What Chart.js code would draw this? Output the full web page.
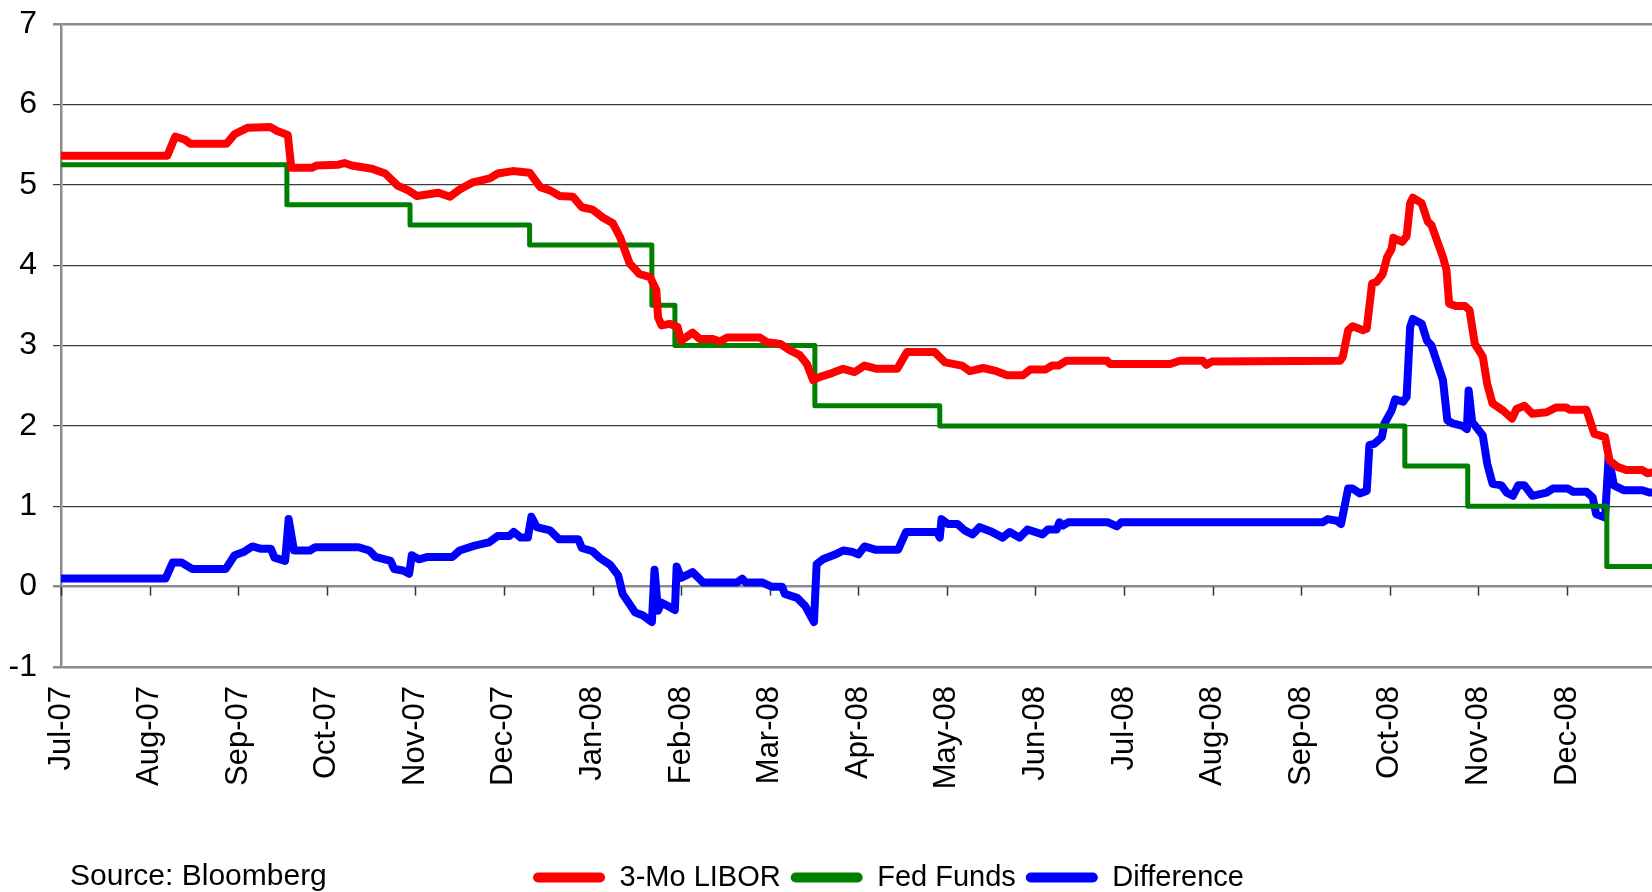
<!DOCTYPE html>
<html lang="en">
<head>
    <meta charset="UTF-8">
    <title>3-Mo LIBOR vs Fed Funds</title>
    <script src="https://cdn.jsdelivr.net/npm/chart.js"></script>
    <style>
        * { margin: 0; padding: 0; box-sizing: border-box; }
        body { background: #fff; overflow: hidden; font-family: 'Liberation Sans', Arial, sans-serif; }
        .wrap { position: relative; width: 1652px; height: 892px; }
        .source { position: absolute; left: 70px; top: 859px; font-size: 30px; line-height: 32px; color: #000; }
    </style>
</head>
<body>
    <div class="wrap">
        <canvas id="spreadChart"></canvas>
        <div class="source">Source: Bloomberg</div>
    </div>

    <script>
        // x positions are in months counted from 1 Jul 2007
        const monthLabels = ['Jul-07', 'Aug-07', 'Sep-07', 'Oct-07', 'Nov-07', 'Dec-07', 'Jan-08', 'Feb-08', 'Mar-08',
            'Apr-08', 'May-08', 'Jun-08', 'Jul-08', 'Aug-08', 'Sep-08', 'Oct-08', 'Nov-08', 'Dec-08'];
        const yTicks = [-1, 0, 1, 2, 3, 4, 5, 6, 7];

        const liborT = [0.00, 1.20, 1.29, 1.40, 1.46, 1.87, 1.96, 2.11, 2.36, 2.44, 2.56, 2.60, 2.83, 2.89, 3.13, 3.20, 3.28,
            3.51, 3.66, 3.80, 3.92, 4.02, 4.26, 4.39, 4.50, 4.65, 4.84, 4.93, 5.10, 5.29, 5.41, 5.52, 5.63, 5.78, 5.88, 6.00,
            6.12, 6.23, 6.31, 6.42, 6.53, 6.65, 6.72, 6.74, 6.78, 6.87, 6.96, 7.00, 7.13, 7.21, 7.36, 7.44, 7.52, 7.89, 7.97,
            8.12, 8.23, 8.34, 8.42, 8.49, 8.57, 8.71, 8.83, 8.96, 9.07, 9.21, 9.44, 9.55, 9.86, 9.98, 10.17, 10.26, 10.41,
            10.56, 10.68, 10.86, 10.94, 11.11, 11.19, 11.26, 11.35, 11.81, 11.84, 12.52, 12.63, 12.89, 12.93, 12.99, 14.44,
            14.47, 14.53, 14.58, 14.70, 14.74, 14.80, 14.85, 14.92, 14.97, 15.02, 15.04, 15.14, 15.19, 15.23, 15.26, 15.36,
            15.43, 15.47, 15.60, 15.64, 15.67, 15.75, 15.85, 15.90, 15.96, 16.05, 16.10, 16.16, 16.28, 16.38, 16.43, 16.52,
            16.61, 16.77, 16.88, 16.99, 17.03, 17.22, 17.31, 17.43, 17.48, 17.57, 17.67, 17.85, 17.91, 17.96];
        const liborV = [5.36, 5.36, 5.60, 5.56, 5.51, 5.51, 5.63, 5.71, 5.72, 5.67, 5.62, 5.21, 5.21, 5.24, 5.25, 5.27, 5.24,
            5.20, 5.14, 4.99, 4.93, 4.86, 4.90, 4.85, 4.94, 5.03, 5.08, 5.14, 5.17, 5.15, 4.97, 4.93, 4.86, 4.85, 4.72, 4.69,
            4.59, 4.52, 4.35, 4.02, 3.89, 3.85, 3.69, 3.35, 3.25, 3.27, 3.23, 3.06, 3.16, 3.08, 3.08, 3.05, 3.10, 3.10, 3.04,
            3.02, 2.94, 2.88, 2.77, 2.57, 2.61, 2.66, 2.71, 2.67, 2.75, 2.71, 2.71, 2.92, 2.92, 2.79, 2.75, 2.68, 2.72,
            2.68, 2.63, 2.63, 2.70, 2.70, 2.75, 2.75, 2.81, 2.81, 2.77, 2.77, 2.81, 2.81, 2.76, 2.80, 2.81,
            2.86, 3.19, 3.24, 3.19, 3.21, 3.77, 3.79, 3.89, 4.10, 4.20, 4.34, 4.29, 4.36, 4.77, 4.84, 4.77,
            4.54, 4.50, 4.10, 3.94, 3.52, 3.49, 3.49, 3.44, 3.02, 2.86, 2.52, 2.28, 2.19, 2.09, 2.21, 2.25,
            2.15, 2.17, 2.23, 2.23, 2.20, 2.20, 1.90, 1.86, 1.57, 1.49, 1.45, 1.45, 1.41, 1.42];

        const fedT = [0, 2.55, 3.94, 5.29, 6.67, 6.93, 8.51, 9.92, 15.17, 15.88, 17.45, 17.96];
        const fedV = [5.25, 4.75, 4.50, 4.25, 3.50, 3.00, 2.25, 2.00, 1.50, 1.00, 0.25, 0.25];

        const diffT = [0.01, 1.18, 1.26, 1.36, 1.48, 1.86, 1.96, 2.06, 2.16, 2.26, 2.37, 2.41, 2.53, 2.57, 2.63, 2.81, 2.87,
            3.36, 3.48, 3.55, 3.72, 3.76, 3.86, 3.93, 3.96, 4.04, 4.14, 4.42, 4.50, 4.67, 4.83, 4.93, 5.06, 5.11, 5.19, 5.27,
            5.31, 5.37, 5.52, 5.62, 5.84, 5.88, 6.00, 6.08, 6.20, 6.29, 6.34, 6.48, 6.57, 6.67, 6.70, 6.74, 6.78, 6.85, 6.93,
            6.95, 7.00, 7.13, 7.25, 7.63, 7.69, 7.73, 7.92, 8.02, 8.14, 8.17, 8.31, 8.40, 8.50, 8.53, 8.60, 8.76, 8.83, 8.94,
            9.00, 9.07, 9.19, 9.45, 9.54, 9.89, 9.92, 9.94, 10.01, 10.12, 10.20, 10.29, 10.37, 10.49, 10.63, 10.71, 10.82,
            10.91, 11.08, 11.14, 11.24, 11.27, 11.31, 11.37, 11.82, 11.92, 11.97, 14.24, 14.30, 14.40, 14.45, 14.53, 14.58,
            14.66, 14.74, 14.77, 14.83, 14.91, 14.94, 15.02, 15.06, 15.15, 15.19, 15.23, 15.26, 15.36, 15.42, 15.47, 15.60,
            15.65, 15.71, 15.82, 15.87, 15.89, 15.93, 16.05, 16.10, 16.16, 16.26, 16.32, 16.39, 16.45, 16.52, 16.61, 16.77,
            16.84, 17.01, 17.07, 17.22, 17.29, 17.33, 17.43, 17.47, 17.53, 17.64, 17.85, 17.93, 17.96];
        const diffV = [0.10, 0.10, 0.30, 0.30, 0.22, 0.22, 0.39, 0.43, 0.50, 0.47, 0.47, 0.36, 0.32, 0.84, 0.45, 0.45, 0.49,
            0.49, 0.45, 0.37, 0.32, 0.22, 0.20, 0.16, 0.39, 0.34, 0.37, 0.37, 0.45, 0.51, 0.55, 0.63, 0.63, 0.68, 0.61, 0.61,
            0.87, 0.74, 0.70, 0.59, 0.59, 0.48, 0.44, 0.36, 0.27, 0.14, -0.09, -0.32, -0.36, -0.44, 0.21, -0.30, -0.20, -0.24, -0.29,
            0.25, 0.11, 0.18, 0.05, 0.05, 0.10, 0.05, 0.05, 0.00, 0.00, -0.09, -0.14, -0.24, -0.44, 0.28, 0.34, 0.41, 0.45, 0.43,
            0.40, 0.50, 0.46, 0.46, 0.68, 0.68, 0.61, 0.84, 0.78, 0.78, 0.70, 0.65, 0.74, 0.69, 0.61, 0.68, 0.61,
            0.71, 0.65, 0.71, 0.71, 0.80, 0.76, 0.80, 0.80, 0.75, 0.80, 0.80, 0.84, 0.82, 0.78, 1.22, 1.22,
            1.16, 1.19, 1.76, 1.78, 1.86, 2.03, 2.19, 2.33, 2.30, 2.36, 3.23, 3.33, 3.27, 3.06, 3.00, 2.57,
            2.07, 2.03, 2.00, 1.96, 2.44, 2.05, 1.88, 1.53, 1.28, 1.26, 1.17, 1.13, 1.26, 1.26, 1.13, 1.17,
            1.22, 1.22, 1.18, 1.18, 1.11, 0.90, 0.86, 1.61, 1.26, 1.20, 1.20, 1.17, 1.17];

        const FONT = "'Liberation Sans', Arial, sans-serif";
        const pts = (t, v) => t.map((x, i) => ({ x: x, y: v[i] }));

        // little tick marks hanging under the zero line
        const zeroTicks = {
            id: 'zeroTicks',
            beforeDatasetsDraw(chart) {
                const { ctx, scales: { x, y } } = chart;
                const y0 = y.getPixelForValue(0);
                ctx.save();
                ctx.strokeStyle = '#333';
                ctx.lineWidth = 1.5;
                x.ticks.forEach(t => {
                    const px = Math.round(x.getPixelForValue(t.value)) + 0.5;
                    ctx.beginPath();
                    ctx.moveTo(px, y0);
                    ctx.lineTo(px, y0 + 9);
                    ctx.stroke();
                });
                ctx.restore();
            }
        };

        // legend sits a bit right of centre in the original
        const nudgeLegend = {
            id: 'nudgeLegend',
            afterLayout(chart) {
                chart.legend.left += 32;
                chart.legend.right += 32;
            }
        };

        new Chart(document.getElementById('spreadChart'), {
            type: 'line',
            data: {
                datasets: [
                    {
                        label: '3-Mo LIBOR',
                        data: pts(liborT, liborV),
                        borderColor: '#ff0000',
                        backgroundColor: '#ff0000',
                        borderWidth: 8
                    },
                    {
                        label: 'Fed Funds',
                        data: pts(fedT, fedV),
                        borderColor: '#008000',
                        backgroundColor: '#008000',
                        borderWidth: 5,
                        stepped: true
                    },
                    {
                        label: 'Difference',
                        data: pts(diffT, diffV),
                        borderColor: '#0000ff',
                        backgroundColor: '#0000ff',
                        borderWidth: 8
                    }
                ]
            },
            options: {
                responsive: true,
                maintainAspectRatio: false,
                animation: false,
                layout: { padding: { top: 24, right: 0, left: 0, bottom: -10 } },
                elements: {
                    point: { radius: 0 },
                    line: { tension: 0, fill: false, borderJoinStyle: 'round', borderCapStyle: 'round' }
                },
                plugins: {
                    tooltip: { enabled: false },
                    legend: {
                        position: 'bottom',
                        fullSize: false,
                        labels: {
                            color: '#000',
                            font: { family: FONT, size: 29 },
                            boxWidth: 72,
                            boxHeight: 10,
                            padding: 10,
                            generateLabels: chart => chart.data.datasets.map((ds, i) => ({
                                text: ds.label,
                                fillStyle: ds.borderColor,
                                strokeStyle: ds.borderColor,
                                lineWidth: 0,
                                borderRadius: 5,
                                datasetIndex: i,
                                hidden: false
                            }))
                        }
                    }
                },
                scales: {
                    x: {
                        type: 'linear',
                        min: 0,
                        max: 17.96,
                        afterBuildTicks: s => { s.ticks = monthLabels.map((_, i) => ({ value: i })); },
                        afterFit: s => { s.height = 186; },
                        grid: { display: false, drawTicks: false },
                        border: { display: false },
                        ticks: {
                            autoSkip: false,
                            minRotation: 90,
                            maxRotation: 90,
                            padding: 19,
                            color: '#000',
                            font: { family: FONT, size: 31 },
                            callback: v => monthLabels[v]
                        }
                    },
                    y: {
                        min: -1,
                        max: 7,
                        afterBuildTicks: s => { s.ticks = yTicks.map(v => ({ value: v })); },
                        // fixed axis width, and let the top label hang above the plot
                        afterFit: s => { s.width = 61; s.paddingTop = 0; },
                        grid: {
                            color: c => [-1, 0, 7].includes(c.tick.value) ? '#8c8c8c' : '#3c3c3c',
                            lineWidth: c => [-1, 0, 7].includes(c.tick.value) ? 2.5 : 1.2,
                            tickLength: 8
                        },
                        border: { color: '#8c8c8c', width: 2.5 },
                        ticks: {
                            padding: 16,
                            color: '#000',
                            font: { family: FONT, size: 32 }
                        }
                    }
                }
            },
            plugins: [zeroTicks, nudgeLegend]
        });
    </script>
</body>
</html>
